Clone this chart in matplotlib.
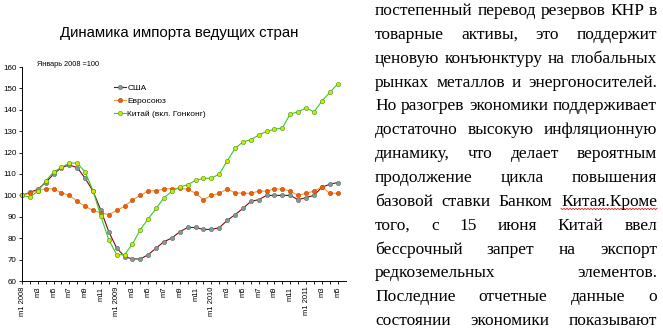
import matplotlib
matplotlib.use("Agg")
import matplotlib.pyplot as plt
import numpy as np
from matplotlib.lines import Line2D

# Импорт, январь 2008 = 100, помесячно с m1 2008 по m5 2011
usa = [100, 101.4, 102.8, 106, 110, 113, 114.2, 113, 108, 102, 93, 83,
       75.4, 71.4, 70.3, 70.3, 72.3, 75.4, 78.4, 80.1, 83, 85, 85, 84.1,
       84.1, 84.9, 88.3, 91, 93.9, 97.2, 98, 100, 100, 100, 100, 98,
       99, 100, 103.8, 105.2, 106]
eu = [100, 101, 102.2, 103.2, 103, 101.3, 100, 97.2, 94.9, 93, 91.8, 91,
      93, 94.9, 97.9, 100, 102.1, 102.2, 103, 103.2, 103.3, 102.9, 101, 98,
      100, 101, 103, 101.2, 101, 101, 102, 102, 103, 103, 102, 100,
      101, 102, 104, 101, 101]
china = [100, 99.2, 101.9, 106.7, 110.9, 113.1, 115.1, 115.1, 111, 102.2, 90.2, 79.2,
         72.3, 72.3, 77.3, 84, 89.1, 93.9, 98.9, 102, 103.9, 105, 107, 108,
         108, 110, 116, 122, 125, 126, 128.2, 129.9, 130.9, 131.5, 138.1, 139,
         141, 139, 144, 148.1, 152]
years = [2008, 2009, 2010, 2011]

body_lines = [
    "постепенный перевод резервов КНР в",
    "товарные активы, это поддержит",
    "ценовую конъюнктуру на глобальных",
    "рынках металлов и энергоносителей.",
    "Но разогрев экономики поддерживает",
    "достаточно высокую инфляционную",
    "динамику, что делает вероятным",
    "продолжение цикла повышения",
    "базовой ставки Банком Китая.Кроме",
    "того, с 15 июня Китай ввел",
    "бессрочный запрет на экспорт",
    "редкоземельных элементов.",
    "Последние отчетные данные о",
    "состоянии экономики показывают",
]

W, H = 663, 332
fig = plt.figure(figsize=(W / 100, H / 100), dpi=100)
fig.patch.set_facecolor("white")

sans = "Liberation Sans"
serif = "Liberation Serif"

ax = fig.add_axes([22 / W, 51 / H, (345.5 - 22) / W, (265 - 51) / H])
x = np.arange(len(usa))
ax.plot(x, usa, color="#990000", lw=0.8, marker="o", ms=3.1,
        mfc="#7E9C94", mec="#5E6E68", mew=0.4, label="США")
ax.plot(x, eu, color="#FF9A2E", lw=0.8, marker="o", ms=3.1,
        mfc="#E8600A", mec="#C04A00", mew=0.4, label="Евросоюз")
ax.plot(x, china, color="#33CC22", lw=0.8, marker="o", ms=3.1,
        mfc="#D4E400", mec="#3A9A20", mew=0.4, label="Китай (вкл. Гонконг)")

ax.set_xlim(0, len(usa))
ax.set_ylim(60, 160)
ax.set_yticks(np.arange(60, 161, 10))
ax.set_xticks(x, minor=True)
major = x[::2]
labels = []
for i in major:
    m = i % 12 + 1
    labels.append(f"m{m} {years[i // 12]}" if m == 1 else f"m{m}")
ax.set_xticks(major)
ax.set_xticklabels(labels, rotation=90, fontsize=5.5, family=sans)
for lab in ax.get_yticklabels():
    lab.set_fontsize(5.8)
    lab.set_family(sans)
ax.tick_params(axis="both", which="both", direction="out", length=2.5,
               width=0.6, pad=1.5, color="black")
ax.spines["top"].set_visible(False)
ax.spines["right"].set_visible(False)
for s in ("left", "bottom"):
    ax.spines[s].set_linewidth(0.7)
for ln in ax.lines:
    ln.set_clip_on(False)

fig.text(179 / W, 1 - 33 / H, "Динамика импорта ведущих стран",
         ha="center", va="center", fontsize=10.8, family=sans)
fig.text(37 / W, 1 - 64 / H, "Январь 2008 =100", ha="left", va="center",
         fontsize=5.3, family=sans)

ax.legend(loc="upper left", bbox_to_anchor=(114 / W, 1 - 84 / H),
          bbox_transform=fig.transFigure, frameon=False,
          prop={"family": sans, "size": 6}, handlelength=1.4,
          handletextpad=0.2, labelspacing=0.65, borderpad=0, borderaxespad=0)

# Текст справа, выровненный по ширине
renderer = fig.canvas.get_renderer()
left_px, right_px = 375, 657
fs = 12.5
underline = None
for k, line in enumerate(body_lines):
    words = line.split(" ")
    ypx = 15 + k * 23.85
    arts = [fig.text(0, 0, w, fontsize=fs, family=serif, va="baseline",
                     ha="left") for w in words]
    widths = [a.get_window_extent(renderer).width for a in arts]
    gap = (right_px - left_px - sum(widths)) / max(len(words) - 1, 1)
    xp = left_px
    for a, w, wd in zip(arts, words, widths):
        a.set_position((xp / W, 1 - ypx / H))
        if w == "Китая.Кроме":
            underline = (xp, xp + wd, ypx + 2.5)
        xp += wd + gap

if underline is not None:
    x0, x1, yb = underline
    zx = np.arange(x0, x1 + 0.1, 1.5)
    zy = yb + np.where(np.arange(len(zx)) % 2 == 0, 0, 1.3)
    fig.add_artist(Line2D(zx / W, 1 - zy / H, transform=fig.transFigure,
                          color="#E02020", lw=0.6))

fig.savefig("out.png", dpi=100)
